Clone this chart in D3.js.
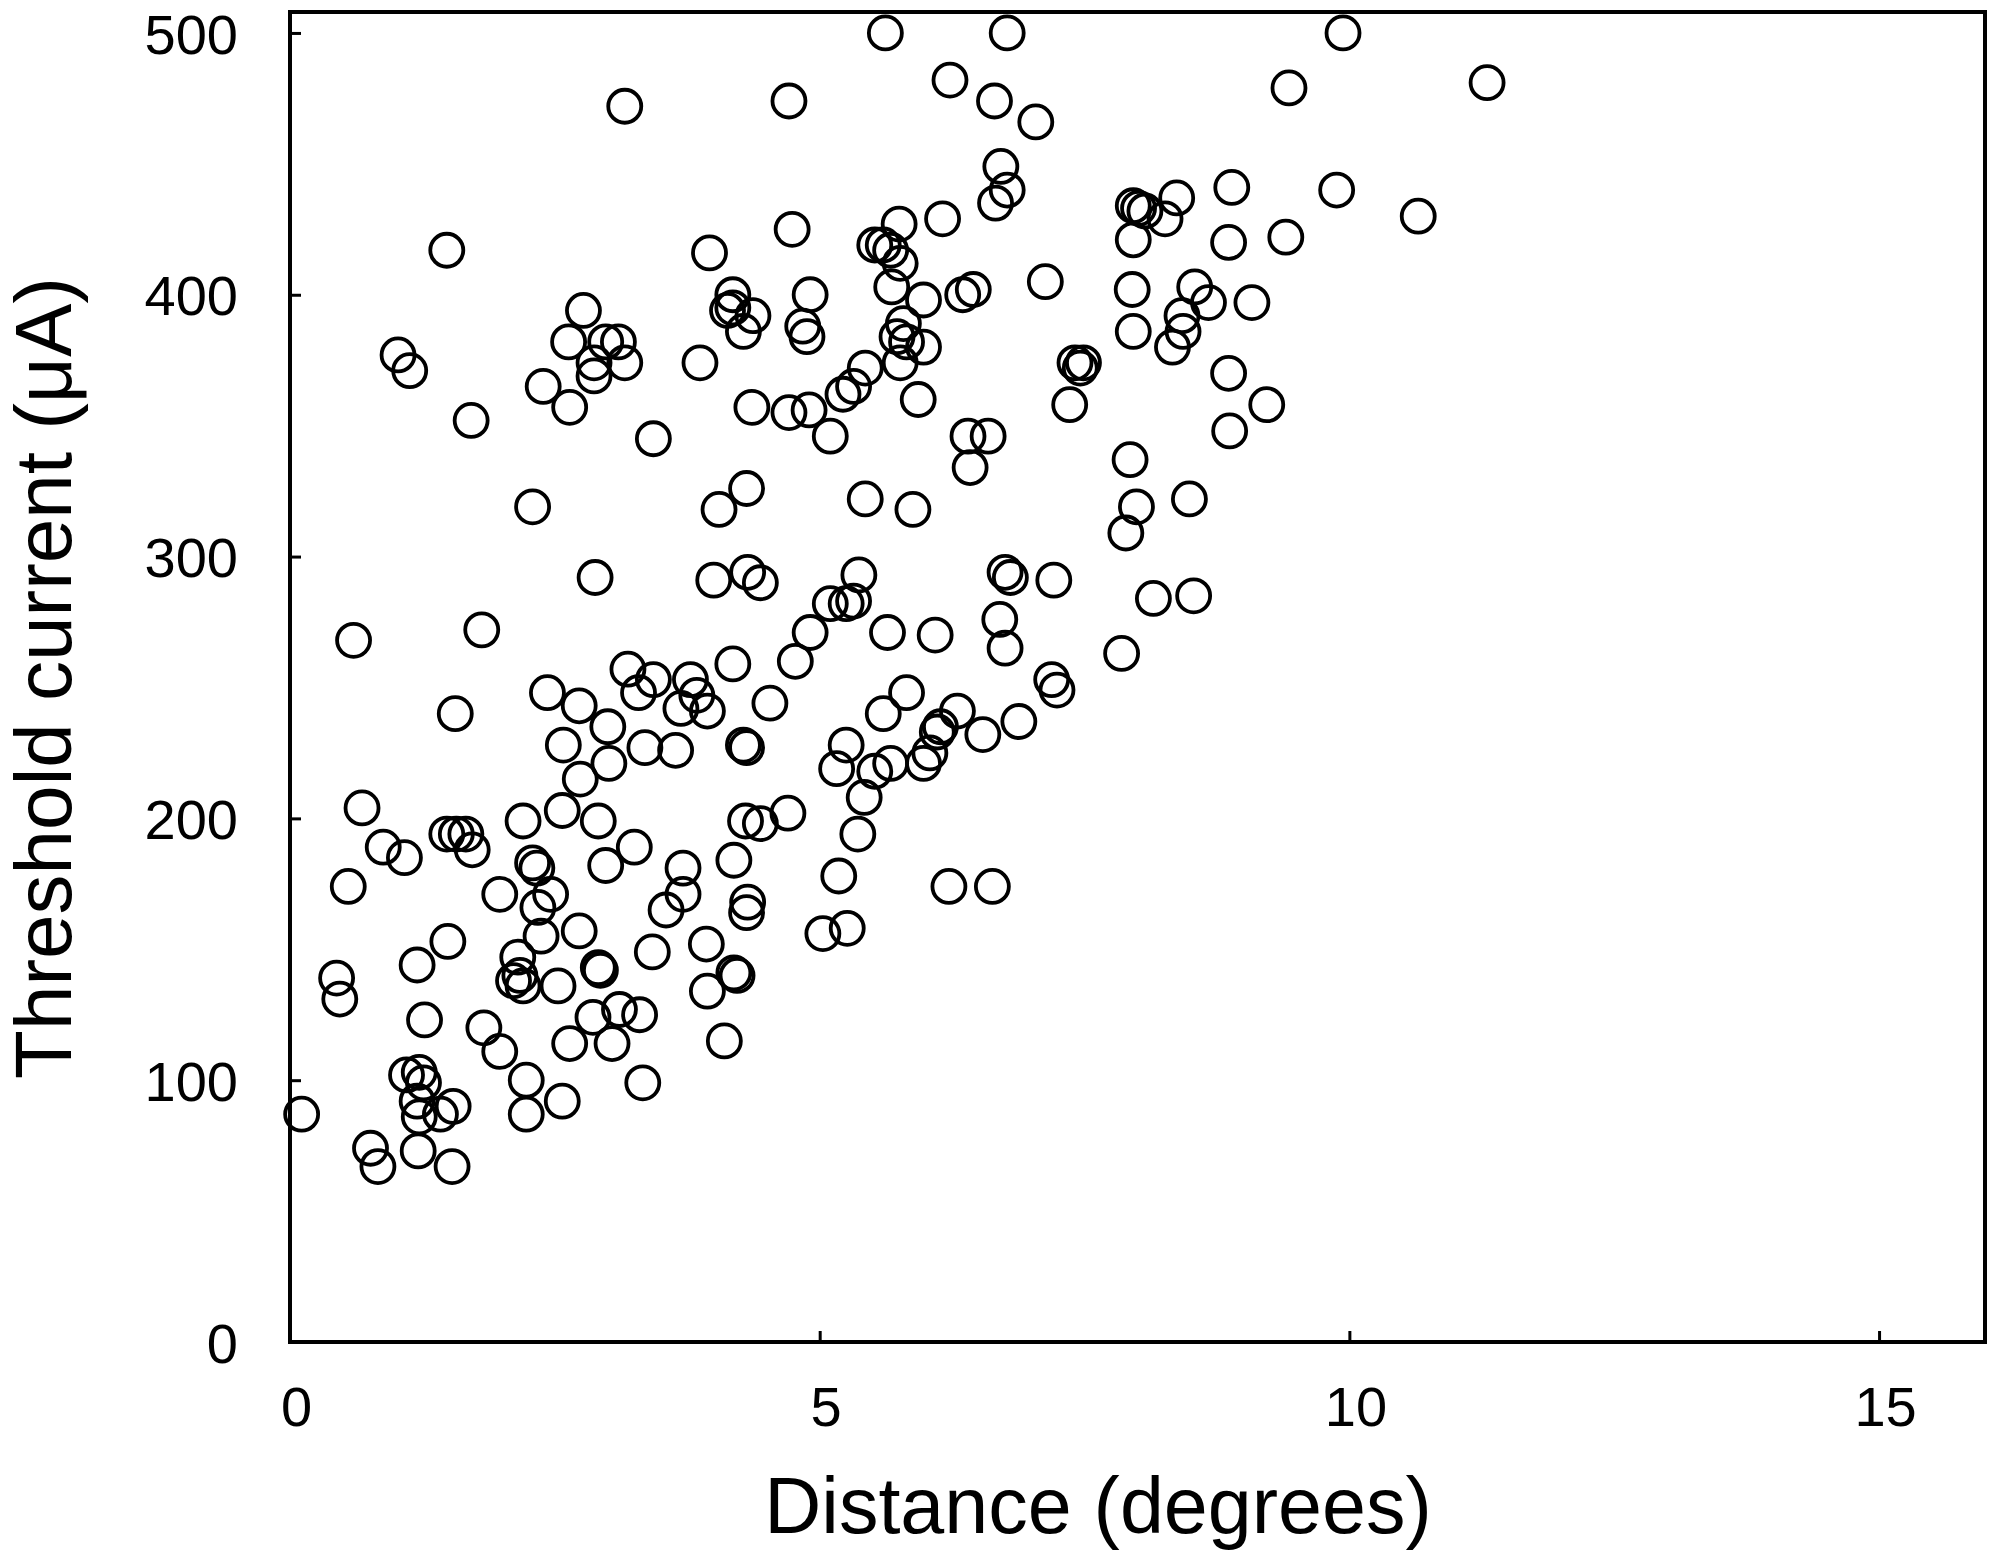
<!DOCTYPE html>
<html><head><meta charset="utf-8">
<script src="https://cdn.jsdelivr.net/npm/d3@7"></script>
<style>html,body{margin:0;padding:0;background:#fff;}svg{display:block;}</style>
</head><body>
<svg id="chart" width="1995" height="1568"></svg>
<script>
const distance = [
5.62,6.77,9.94,11.30,9.43,6.23,4.71,3.16,6.65,7.04,
6.71,6.77,6.66,6.16,5.75,4.74,3.96,1.48,5.52,5.60,
5.67,5.76,5.68,5.98,6.35,6.45,7.13,7.41,7.46,7.49,
7.36,4.18,4.18,4.37,4.28,4.13,4.91,4.84,4.88,3.87,
5.79,5.82,5.73,5.98,5.76,5.43,5.32,5.22,5.93,4.36,
4.71,4.90,8.89,9.88,10.65,7.96,8.01,8.07,8.37,8.26,
7.96,8.86,9.40,7.95,8.54,8.67,9.08,7.96,8.42,8.43,
8.33,8.86,9.22,8.87,2.77,2.63,3.10,2.98,3.16,2.87,
2.87,2.39,2.64,1.02,1.13,1.71,
6.40,6.59,6.42,5.10,3.43,4.31,4.05,5.43,5.88,2.29,
2.88,4.00,4.32,4.44,5.37,5.10,5.25,5.32,4.91,4.77,
5.64,6.09,6.75,6.80,7.21,6.70,6.75,4.18,3.78,3.84,
3.94,3.69,4.53,4.28,4.31,5.82,5.60,6.30,6.54,6.88,
7.19,7.24,5.25,5.16,5.42,5.52,5.67,5.98,6.04,6.11,
6.14,7.93,8.49,7.99,7.89,8.15,8.53,7.85,0.60,1.81,
1.56,2.43,2.73,3.19,3.29,3.43,3.00,2.58,3.01,3.35,
2.74,3.64,
0.68,0.88,1.08,0.55,1.48,1.57,1.66,1.72,2.20,2.57,
2.91,3.25,2.98,2.29,2.33,2.46,1.98,2.34,2.37,2.73,
3.71,3.55,3.71,3.42,1.49,1.20,0.44,0.47,1.27,2.15,
2.11,2.20,2.17,2.53,2.91,2.93,1.83,1.98,2.64,2.86,
3.11,3.30,3.04,3.33,2.23,2.23,2.57,1.10,1.22,1.26,
1.20,1.22,1.42,1.54,0.11,0.76,0.83,1.21,1.53,4.70,
4.30,4.44,5.36,4.19,4.32,4.31,5.18,6.22,6.63,5.03,
5.26,3.93,4.19,4.22,3.94,4.10
];
const threshold = [
500,500,500,481,479,482,474,472,474,466,
449,440,435,429,427,425,416,417,419,419,
417,412,403,398,400,402,405,374,372,374,
358,400,395,392,386,394,400,388,384,374,
389,382,384,380,374,372,365,362,360,357,
355,356,441,440,430,434,433,432,437,429,
421,420,422,402,403,397,397,386,392,386,
380,370,358,348,394,382,382,382,374,374,
369,365,357,377,371,352,
346,346,334,346,345,326,318,322,318,319,
292,291,294,290,293,282,282,283,271,260,
271,270,294,292,291,276,265,259,253,247,
241,242,244,228,227,248,240,241,232,237,
253,249,228,219,208,218,221,221,225,233,
235,337,322,319,309,284,285,263,268,272,
240,248,243,257,248,253,235,228,221,227,
215,226,
204,189,185,174,194,194,194,188,199,203,
199,189,182,183,181,171,171,166,155,157,
181,165,171,149,153,144,139,131,123,147,
138,136,140,136,143,142,120,111,114,124,
127,125,114,99,100,87,92,102,103,99,
92,86,87,90,87,74,67,73,67,202,
199,198,194,184,168,164,178,174,174,156,
158,152,141,140,134,115
];
const xTicks = [0, 5, 10, 15];
const yTicks = [0, 100, 200, 300, 400, 500];
const xDomain = [0, 16];
const yDomain = [0, 508];
const xTitle = "Distance (degrees)";
const yTitle = "Threshold current (\u03bcA)";

const svg = d3.select("#chart");
const L = 290, R = 1985, T = 12, B = 1342;
const x = d3.scaleLinear().domain(xDomain).range([L, R]);
const y = d3.scaleLinear().domain(yDomain).range([B, T]);
const font = "'Liberation Sans', Arial, Helvetica, sans-serif";

svg.append("rect").attr("width",1995).attr("height",1568).attr("fill","#fff");

const pts = distance.map((d,i)=>({d, t: threshold[i]}));
svg.append("g").selectAll("circle").data(pts).join("circle")
  .attr("cx", p=>x(p.d)).attr("cy", p=>y(p.t)).attr("r", 16.5)
  .attr("fill","none").attr("stroke","#000").attr("stroke-width",3.8);

const xAxis = d3.axisBottom(x).tickValues(xTicks).tickSize(-11).tickPadding(0).tickFormat(d3.format("d"));
const gx = svg.append("g").attr("transform",`translate(0,${B})`).call(xAxis);
gx.select(".domain").remove();
gx.selectAll(".tick line").attr("stroke","#000").attr("stroke-width",3);
gx.selectAll(".tick text").attr("font-family",font).attr("font-size",56).attr("fill","#000")
  .attr("dy",null).attr("y",84).attr("dx",6);

const yAxis = d3.axisLeft(y).tickValues(yTicks).tickSize(-11).tickPadding(0).tickFormat(d3.format("d"));
const gy = svg.append("g").attr("transform",`translate(${L},0)`).call(yAxis);
gy.select(".domain").remove();
gy.selectAll(".tick line").attr("stroke","#000").attr("stroke-width",3);
gy.selectAll(".tick text").attr("font-family",font).attr("font-size",56).attr("fill","#000")
  .attr("x",-52).attr("dy","0.36em");

svg.append("rect").attr("x",L).attr("y",T).attr("width",R-L).attr("height",B-T)
  .attr("fill","none").attr("stroke","#000").attr("stroke-width",4);

svg.append("text").attr("x",1098).attr("y",1533).attr("text-anchor","middle")
  .attr("font-family",font).attr("font-size",79).attr("fill","#000").text(xTitle);
svg.append("text").attr("transform",`translate(71,${678}) rotate(-90)`).attr("text-anchor","middle")
  .attr("font-family",font).attr("font-size",80).attr("fill","#000").text(yTitle);
</script>
</body></html>
